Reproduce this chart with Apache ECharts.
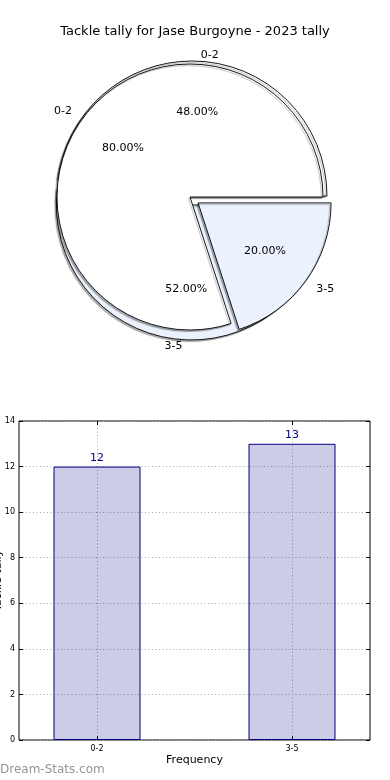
<!DOCTYPE html>
<html><head><meta charset="utf-8">
<script src="https://cdn.jsdelivr.net/npm/echarts@6/dist/echarts.min.js"></script>
<style>html,body{margin:0;padding:0;background:#fff}#c{width:390px;height:780px}</style>
</head><body><div id="c"></div>
<script>
const chartTitle = 'Tackle tally for Jase Burgoyne - 2023 tally';
const categories = ['0-2', '3-5'];
const tallyValues = [12, 13];
const shareValues = [80, 20];
const xAxisName = 'Frequency';
const yAxisName = 'Tackle tally';
const watermark = 'Dream-Stats.com';

const FONT = 'DejaVu Sans';
const sliceColors = ['#ffffff', '#ebf1fd'];
const FRONT = { center: [190, 197], r: 133, offset: 10, len: 13 };
const BACK = { center: [192, 196], r: 135, offset: 9, len: 6 };

function pieData(values) {
  return categories.map((c, i) => ({
    name: c, value: values[i], selected: i === 1,
    itemStyle: { color: sliceColors[i] }
  }));
}
function labelData(values) {
  return categories.map((c, i) => ({ name: c, value: values[i], selected: i === 1 }));
}
const pctFmt = p => p.percent.toFixed(2) + '%';
const base = { type: 'pie', startAngle: 0, clockwise: false, selectedMode: 'multiple', silent: true,
  animation: false, avoidLabelOverlap: false, emphasis: { disabled: true } };

function visiblePie(values, g, z) {
  return Object.assign({}, base, {
    z: z, center: g.center, radius: [0, g.r], selectedOffset: g.offset,
    label: { show: false }, labelLine: { show: false },
    itemStyle: { borderColor: '#000', borderWidth: 0.9, shadowColor: 'rgba(0,0,0,0.3)', shadowBlur: 1, shadowOffsetX: -1.5, shadowOffsetY: 1.5 },
    data: pieData(values)
  });
}
function outerLabelPie(values, g) {
  return Object.assign({}, base, {
    z: 5, center: g.center, radius: [0, g.r], selectedOffset: g.offset,
    itemStyle: { color: 'rgba(0,0,0,0)', borderWidth: 0 },
    label: { show: true, position: 'outside', formatter: '{b}', color: '#000', fontSize: 11, fontFamily: FONT, distanceToLabelLine: 0 },
    labelLine: { show: false, length: g.len, length2: 0 },
    data: labelData(values)
  });
}
function innerLabelPie(values, g) {
  return Object.assign({}, base, {
    z: 5, center: g.center, radius: [0, g.r * 1.2], selectedOffset: g.offset,
    itemStyle: { color: 'rgba(0,0,0,0)', borderWidth: 0 },
    label: { show: true, position: 'inside', formatter: pctFmt, color: '#000', fontSize: 11, fontFamily: FONT },
    labelLine: { show: false },
    data: labelData(values)
  });
}

const gridDot = { type: [1, 2.5], color: '#a8a8a8', width: 1 };
const chart = echarts.init(document.getElementById('c'), null, { renderer: 'canvas' });
chart.setOption({
  animation: false,
  backgroundColor: '#fff',
  title: { text: chartTitle, left: 'center', top: 20, textStyle: { fontSize: 13, fontWeight: 'normal', color: '#000', fontFamily: FONT } },
  graphic: [{ type: 'text', left: 0, top: 764, style: { text: watermark, fill: '#959595', font: '12px "DejaVu Sans"' } }],
  grid: { left: 19, right: 20, top: 421, bottom: 40, show: true, borderColor: '#000', borderWidth: 1, containLabel: false, outerBoundsMode: 'none' },
  xAxis: [{
    type: 'value', min: -0.4, max: 1.4, position: 'bottom',
    axisLine: { show: false, onZero: false },
    axisTick: { show: true, inside: true, length: 4, customValues: [0, 1], lineStyle: { color: '#000' } },
    axisLabel: { customValues: [0, 1], formatter: v => categories[Math.round(v)] || '', fontSize: 8, color: '#000', margin: 5, fontFamily: FONT },
    splitLine: { show: true, lineStyle: gridDot },
    name: xAxisName, nameLocation: 'middle', nameGap: 15, nameMoveOverlap: false, nameTextStyle: { fontSize: 11, color: '#000', fontFamily: FONT }
  }, {
    type: 'value', min: -0.4, max: 1.4, position: 'top',
    axisLine: { show: false, onZero: false },
    axisTick: { show: true, inside: true, length: 4, customValues: [0, 1], lineStyle: { color: '#000' } },
    axisLabel: { show: false }, splitLine: { show: false }
  }],
  yAxis: [{
    type: 'value', min: 0, max: 14, interval: 2, position: 'left',
    axisLine: { show: false, onZero: false },
    axisTick: { show: true, inside: true, length: 4, lineStyle: { color: '#000' } },
    axisLabel: { fontSize: 8, color: '#000', margin: 4, fontFamily: FONT },
    splitLine: { show: true, lineStyle: gridDot },
    name: yAxisName, nameLocation: 'middle', nameGap: 15, nameMoveOverlap: false, nameTextStyle: { fontSize: 11, color: '#000', fontFamily: FONT }
  }, {
    type: 'value', min: 0, max: 14, interval: 2, position: 'right',
    axisLine: { show: false, onZero: false },
    axisTick: { show: true, inside: true, length: 4, lineStyle: { color: '#000' } },
    axisLabel: { show: false }, splitLine: { show: false }
  }],
  series: [
    visiblePie(tallyValues, BACK, 1),
    visiblePie(shareValues, FRONT, 2),
    outerLabelPie(tallyValues, BACK),
    innerLabelPie(tallyValues, BACK),
    outerLabelPie(shareValues, FRONT),
    innerLabelPie(shareValues, FRONT),
    {
      type: 'bar', xAxisIndex: 0, yAxisIndex: 0, z: 2, barWidth: 87, silent: true,
      data: categories.map((c, i) => [i, tallyValues[i]]),
      itemStyle: { color: 'rgba(0,0,128,0.2)', borderColor: '#000080', borderWidth: 1 },
      label: { show: true, position: 'top', distance: 3, color: '#000080', fontSize: 11, fontFamily: FONT, formatter: p => String(p.value[1]) }
    }
  ]
});
</script></body></html>
